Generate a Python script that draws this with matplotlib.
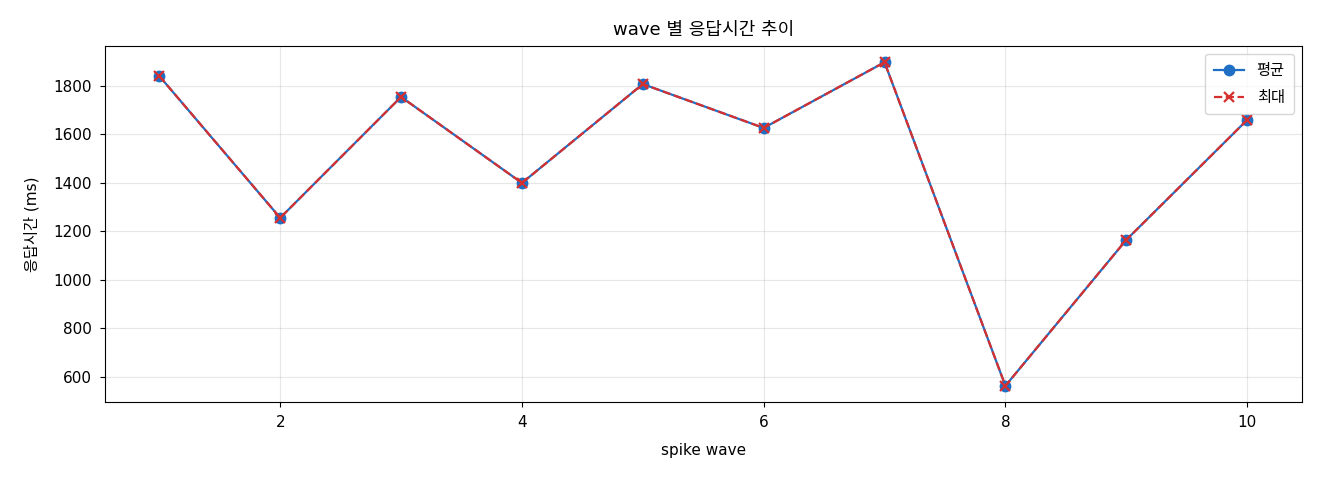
import matplotlib
matplotlib.use('Agg')
import matplotlib.pyplot as plt

plt.rcParams['font.family'] = ['DejaVu Sans', 'Noto Sans CJK KR']
plt.rcParams['axes.unicode_minus'] = False

waves = [1, 2, 3, 4, 5, 6, 7, 8, 9, 10]
avg_ms = [1841, 1256, 1755, 1400, 1808, 1627, 1898, 563, 1165, 1660]
max_ms = [1841, 1256, 1755, 1400, 1808, 1627, 1898, 563, 1165, 1660]

fig = plt.figure(figsize=(13.2, 4.8), dpi=100)
ax = fig.add_axes([0.0795, 0.1625, 0.9065, 0.7415])

ax.plot(waves, avg_ms, color='#1f6fc5', marker='o', markersize=7.5, linewidth=1.6, label='평균')
ax.plot(waves, max_ms, color='#d62f2f', marker='x', markersize=7, markeredgewidth=1.6,
        linewidth=1.6, linestyle='--', label='최대')

ax.set_title('wave 별 응답시간 추이', fontsize=13, pad=8)
ax.set_xlabel('spike wave', fontsize=11, labelpad=9)
ax.set_ylabel('응답시간 (ms)', fontsize=11, labelpad=10)
ax.tick_params(labelsize=11, pad=6)
ax.grid(True, alpha=0.3)
ax.legend(loc='upper right', fontsize=11, labelspacing=0.8, borderpad=0.6)

fig.savefig('out.png', dpi=100)
